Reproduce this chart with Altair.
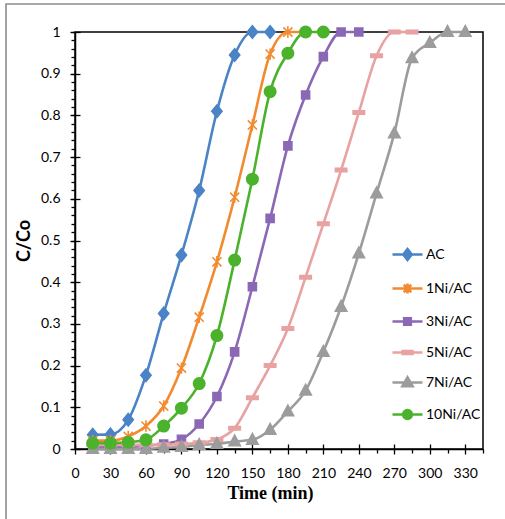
import altair as alt
import pandas as pd

# Breakthrough curves: C/Co versus time for each adsorbent
series_names = ["AC", "1Ni/AC", "3Ni/AC", "5Ni/AC", "7Ni/AC", "10Ni/AC"]
series_colors = ["#4A83C6", "#F28A30", "#8A68B5", "#E8A2A2", "#9C9C9C", "#4BB22C"]

time_ac = [15, 30, 45, 60, 75, 90, 105, 120, 135, 150, 165]
cc_ac = [0.034, 0.035, 0.07, 0.177, 0.325, 0.465, 0.62, 0.81, 0.945, 1.0, 1.0]

time_1ni = [15, 30, 45, 60, 75, 90, 105, 120, 135, 150, 165, 180, 195]
cc_1ni = [0.02, 0.02, 0.03, 0.055, 0.103, 0.194, 0.316, 0.449, 0.604, 0.777, 0.947, 1.0, 1.0]

time_3ni = [15, 30, 45, 60, 75, 90, 105, 120, 135, 150, 165, 180, 195, 210, 225, 240]
cc_3ni = [0.005, 0.005, 0.005, 0.008, 0.012, 0.023, 0.06, 0.126, 0.233, 0.389, 0.553, 0.727, 0.849, 0.941, 1.0, 1.0]

time_5ni = [15, 30, 45, 60, 75, 90, 105, 120, 135, 150, 165, 180, 195, 210, 225, 240, 255, 270, 285]
cc_5ni = [0.01, 0.01, 0.01, 0.01, 0.01, 0.012, 0.015, 0.023, 0.05, 0.123, 0.2, 0.289, 0.412, 0.54, 0.669, 0.807, 0.943, 1.0, 1.0]

time_7ni = [15, 30, 45, 60, 75, 90, 105, 120, 135, 150, 165, 180, 195, 210, 225, 240, 255, 270, 285, 300, 315, 330]
cc_7ni = [0.0, 0.0, 0.0, 0.0, 0.003, 0.005, 0.01, 0.012, 0.018, 0.022, 0.046, 0.09, 0.14, 0.233, 0.341, 0.469, 0.613, 0.757, 0.937, 0.974, 1.0, 1.0]

time_10ni = [15, 30, 45, 60, 75, 90, 105, 120, 135, 150, 165, 180, 195, 210]
cc_10ni = [0.014, 0.014, 0.016, 0.022, 0.055, 0.098, 0.157, 0.272, 0.453, 0.647, 0.857, 0.949, 1.0, 1.0]

# Marker outlines in symbol units (size 130 -> one unit ~ 5.7 px)
marker_paths = [
    "M0,-1.1L0.9,0L0,1.1L-0.9,0Z",
    "M-0.8,-0.8L0.8,0.8M-0.8,0.8L0.8,-0.8M0,-1L0,1",
    "M-0.7,-0.7H0.7V0.7H-0.7Z",
    "M-1,-0.3H1V0.3H-1Z",
    "M0,-1.1L1,0.75H-1Z",
    "circle",
]
# Legend keys: a short line with the marker on it (size 900 -> one unit = 15 px)
legend_paths = [
    "M-1,0H1M0,-0.36L0.28,0L0,0.36L-0.28,0Z",
    "M-1,0H1M-0.25,-0.25L0.25,0.25M-0.25,0.25L0.25,-0.25M0,-0.33L0,0.33",
    "M-1,0H1M-0.22,-0.22H0.22V0.22H-0.22Z",
    "M-1,0H1M-0.33,-0.1H0.33V0.1H-0.33Z",
    "M-1,0H1M0,-0.34L0.34,0.24H-0.34Z",
    "M-1,0H1M-0.29,0A0.29,0.29,0,1,1,0.29,0A0.29,0.29,0,1,1,-0.29,0Z",
]

frames = []
for name, t, c in [
    ("AC", time_ac, cc_ac),
    ("1Ni/AC", time_1ni, cc_1ni),
    ("3Ni/AC", time_3ni, cc_3ni),
    ("5Ni/AC", time_5ni, cc_5ni),
    ("7Ni/AC", time_7ni, cc_7ni),
    ("10Ni/AC", time_10ni, cc_10ni),
]:
    frames.append(pd.DataFrame({"series": name, "time": t, "cc": c}))
df = pd.concat(frames, ignore_index=True)

x_major = list(range(0, 331, 30))
x_minor = list(range(15, 346, 30))
y_major = [0, 0.1, 0.2, 0.3, 0.4, 0.5, 0.6, 0.7, 0.8, 0.9, 1.0]
y_minor = [round(i * 0.02, 2) for i in range(51)]

x_scale = alt.Scale(domain=[0, 345], nice=False, zero=False)
y_scale = alt.Scale(domain=[0, 1], nice=False)

tick_style = dict(tickColor="black", tickWidth=1.3, grid=False)

color_scale = alt.Scale(domain=series_names, range=series_colors)

base = alt.Chart(df)

lines = base.mark_line(interpolate="monotone", strokeWidth=2.6).encode(
    x=alt.X("time:Q", scale=x_scale, axis=alt.Axis(
        values=x_major, format="d", tickSize=5, domainColor="black", domainWidth=1.5,
        labelFont="Lato", labelFontSize=14, labelColor="black", labelPadding=12,
        labelFlush=False, title="Time (min)", titleFont="Liberation Serif",
        titleFontWeight="bold", titleFontSize=18, titleColor="black", titlePadding=4,
        titleX=195, **tick_style)),
    y=alt.Y("cc:Q", scale=y_scale, axis=alt.Axis(
        values=y_major, format="~g", tickSize=5, domainColor="black", domainWidth=1.5,
        labelFont="Lato", labelFontSize=14, labelColor="black", labelPadding=10,
        labelFlush=False, title="C/Co", titleFont="Lato", titleFontWeight="bold",
        titleFontSize=18, titleColor="black", titlePadding=7, **tick_style)),
    color=alt.Color("series:N", scale=color_scale, legend=None),
    detail="series:N",
)

points = base.mark_point(filled=True, size=130, strokeWidth=1.6, opacity=1).encode(
    x=alt.X("time:Q", scale=x_scale, axis=alt.Axis(
        orient="bottom", values=x_minor, tickSize=4, labels=False, domain=False,
        title=None, **tick_style)),
    y=alt.Y("cc:Q", scale=y_scale, axis=alt.Axis(
        orient="left", values=y_minor, tickSize=4, labels=False, domain=False,
        title=None, **tick_style)),
    color=alt.Color("series:N", scale=color_scale, legend=None),
    stroke=alt.Stroke("series:N", scale=color_scale, legend=None),
    shape=alt.Shape("series:N", scale=alt.Scale(domain=series_names, range=marker_paths), legend=None),
)

legend_opts = dict(
    title=None, orient="none", legendX=316, legendY=206, symbolSize=900,
    symbolStrokeWidth=2.6, symbolOpacity=1, labelFont="Lato", labelFontSize=14,
    labelColor="black", labelOffset=2, rowPadding=6, padding=0,
)

legend_keys = base.mark_point(filled=True, opacity=0).encode(
    x=alt.X("time:Q", scale=x_scale, axis=alt.Axis(
        orient="bottom", offset=-5, values=x_major, tickSize=5, labels=False,
        domain=False, title=None, **tick_style)),
    y=alt.Y("cc:Q", scale=y_scale, axis=alt.Axis(
        orient="left", offset=-5, values=y_major, tickSize=5, labels=False,
        domain=False, title=None, **tick_style)),
    shape=alt.Shape("series:N", scale=alt.Scale(domain=series_names, range=legend_paths),
                    legend=alt.Legend(**legend_opts)),
    fill=alt.Fill("series:N", scale=color_scale, legend=alt.Legend(**legend_opts)),
    stroke=alt.Stroke("series:N", scale=color_scale, legend=alt.Legend(**legend_opts)),
)

outer_frame = alt.Chart(pd.DataFrame({"k": [0]})).mark_rect(
    fillOpacity=0, stroke="#8C8C8C", strokeWidth=1.6
).encode(x=alt.value(-69), x2=alt.value(600), y=alt.value(-28), y2=alt.value(600))

chart = alt.layer(outer_frame, lines, points, legend_keys).resolve_axis(
    x="independent", y="independent"
).resolve_scale(
    shape="independent", stroke="independent", fill="independent"
).properties(
    width=408, height=417,
    padding={"left": 75, "top": 32, "right": 22, "bottom": 70},
    autosize=alt.AutoSizeParams(type="none"),
    background="white",
).configure_view(stroke="black", strokeWidth=1.5)

chart.save("out.html", embed_options={"renderer": "svg", "actions": False})
